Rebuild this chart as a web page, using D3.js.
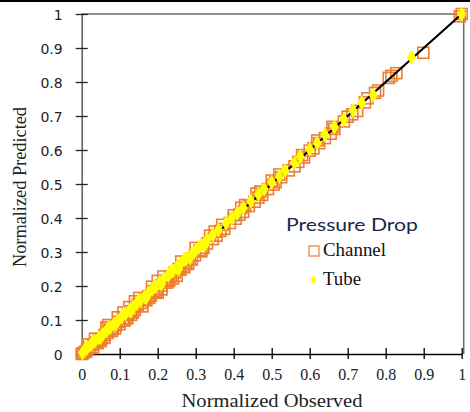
<!DOCTYPE html>
<html>
<head>
<meta charset="utf-8">
<script src="https://cdn.jsdelivr.net/npm/d3@7"></script>
<style>
  body { margin: 0; background: #fff; }
  svg { display: block; }
</style>
</head>
<body>
<svg id="chart" width="470" height="412"></svg>
<script>
// values (observed, predicted)
var channelObserved = [1.0, 0.899, 0.828, 0.815, 0.808, 0.78, 0.772, 0.752, 0.745, 0.725, 0.712, 0.70, 0.69, 0.665, 0.655, 0.64, 0.625, 0.61, 0.60, 0.585, 0.57, 0.56, 0.545, 0.525, 0.51, 0.505, 0.49, 0.475, 0.465, 0.455, 0.44, 0.425, 0.415, 0.405, 0.39, 0.375, 0.365, 0.355, 0.345, 0.33, 0.32, 0.31, 0.298, 0.285, 0.275, 0.268, 0.255, 0.245, 0.235, 0.228, 0.22, 0.21, 0.198, 0.19, 0.182, 0.175, 0.165, 0.158, 0.148, 0.14, 0.13, 0.122, 0.115, 0.108, 0.098, 0.09, 0.082, 0.075, 0.068, 0.06, 0.052, 0.045, 0.038, 0.03, 0.022, 0.015, 0.008, 0.003, 0.0,
    0.16, 0.2, 0.24, 0.25, 0.13, 0.1, 0.06, 0.03, 0.21, 0.07, 0.14, 0.2, 0.27, 0.11,
    0.018, 0.035, 0.05, 0.065, 0.08, 0.095, 0.112, 0.125, 0.135, 0.152, 0.17, 0.185, 0.195, 0.215, 0.23, 0.262, 0.28, 0.3, 0.315, 0.338, 0.37, 0.4, 0.43, 0.46, 0.5, 0.012, 0.042, 0.088, 0.12, 0.178, 0.225, 0.26, 0.29, 0.35, 0.42, 0.47, 0.52, 0.58, 0.62, 0.66, 0.995];
var channelPredicted = [1.0, 0.886, 0.826, 0.818, 0.812, 0.775, 0.768, 0.752, 0.74, 0.715, 0.705, 0.698, 0.684, 0.662, 0.648, 0.635, 0.62, 0.605, 0.598, 0.578, 0.565, 0.552, 0.54, 0.52, 0.505, 0.498, 0.485, 0.468, 0.46, 0.448, 0.435, 0.418, 0.41, 0.398, 0.385, 0.368, 0.362, 0.348, 0.338, 0.325, 0.312, 0.305, 0.29, 0.28, 0.268, 0.258, 0.25, 0.24, 0.228, 0.218, 0.215, 0.202, 0.192, 0.185, 0.172, 0.17, 0.16, 0.15, 0.145, 0.13, 0.126, 0.118, 0.105, 0.103, 0.095, 0.085, 0.075, 0.072, 0.062, 0.056, 0.045, 0.042, 0.033, 0.028, 0.018, 0.012, 0.006, 0.002, 0.0,
    0.14, 0.18, 0.222, 0.23, 0.115, 0.088, 0.048, 0.02, 0.19, 0.085, 0.155, 0.215, 0.255, 0.122,
    0.028, 0.045, 0.038, 0.078, 0.068, 0.108, 0.098, 0.138, 0.122, 0.165, 0.158, 0.198, 0.182, 0.228, 0.215, 0.272, 0.265, 0.312, 0.302, 0.348, 0.38, 0.408, 0.438, 0.472, 0.51, 0.008, 0.032, 0.075, 0.105, 0.165, 0.21, 0.248, 0.278, 0.36, 0.43, 0.478, 0.528, 0.585, 0.628, 0.668, 0.993];

var tubeObserved = [1.0, 0.868, 0.767, 0.737, 0.714, 0.69, 0.665, 0.64, 0.62, 0.60, 0.575, 0.56, 0.535, 0.52, 0.50, 0.48, 0.465, 0.445, 0.425, 0.41, 0.395, 0.38, 0.36, 0.345, 0.33, 0.315, 0.30, 0.29, 0.275, 0.26, 0.25, 0.24, 0.228, 0.215, 0.205, 0.195, 0.185, 0.175, 0.165, 0.155, 0.145, 0.135, 0.125, 0.115, 0.105, 0.095, 0.085, 0.075, 0.065, 0.055, 0.045, 0.035, 0.025, 0.015, 0.008, 0.002,
    0.012, 0.03, 0.05, 0.07, 0.09, 0.11, 0.13, 0.15, 0.17, 0.19, 0.21, 0.235, 0.255, 0.27, 0.285, 0.31, 0.325];
var tubePredicted = [1.0, 0.873, 0.762, 0.739, 0.716, 0.69, 0.668, 0.645, 0.62, 0.602, 0.58, 0.562, 0.54, 0.522, 0.505, 0.485, 0.47, 0.45, 0.43, 0.415, 0.40, 0.385, 0.365, 0.35, 0.336, 0.32, 0.305, 0.295, 0.28, 0.265, 0.255, 0.244, 0.232, 0.22, 0.21, 0.198, 0.19, 0.178, 0.168, 0.158, 0.148, 0.138, 0.128, 0.118, 0.108, 0.098, 0.088, 0.078, 0.068, 0.058, 0.048, 0.038, 0.028, 0.018, 0.01, 0.003,
    0.02, 0.036, 0.048, 0.076, 0.088, 0.118, 0.126, 0.158, 0.166, 0.198, 0.206, 0.242, 0.25, 0.278, 0.282, 0.316, 0.322];

var tickValues = [0, 0.1, 0.2, 0.3, 0.4, 0.5, 0.6, 0.7, 0.8, 0.9, 1];
var tickLabels = ['0', '0.1', '0.2', '0.3', '0.4', '0.5', '0.6', '0.7', '0.8', '0.9', '1'];
var legendTitle = 'Pressure Drop';
var seriesNames = ['Channel', 'Tube'];

var svg = d3.select('#chart');

var x = d3.scaleLinear().domain([0, 1]).range([81.7, 461.7]);
var y = d3.scaleLinear().domain([0, 1]).range([354, 14]);

// outer top edge
svg.append('line').attr('x1', 0).attr('x2', 470).attr('y1', 1).attr('y2', 1)
    .attr('stroke', '#000').attr('stroke-width', 2);

// plot frame (top and right)
svg.append('path')
    .attr('d', 'M' + x(0) + ',' + y(1) + 'H' + (x(1) + 2) + 'V' + y(0))
    .attr('fill', 'none').attr('stroke', '#6a6a6a').attr('stroke-width', 1.5);

// y axis
var yAxis = svg.append('g').attr('transform', 'translate(' + x(0) + ',0)')
    .call(d3.axisLeft(y).tickValues(tickValues).tickSize(0)
        .tickFormat(function(d, i) { return tickLabels[i]; }));
yAxis.select('.domain').attr('stroke', '#595959').attr('stroke-width', 1.5);
yAxis.selectAll('.tick').append('line')
    .attr('x1', -6).attr('x2', 6).attr('stroke', '#222').attr('stroke-width', 1.3);
yAxis.selectAll('.tick text')
    .attr('x', -19).attr('dy', '0.36em')
    .attr('font-family', 'DejaVu Sans').attr('font-size', 14).attr('fill', '#222');

// x axis
var xAxis = svg.append('g').attr('transform', 'translate(0,' + y(0) + ')')
    .call(d3.axisBottom(x).tickValues(tickValues).tickSize(0)
        .tickFormat(function(d, i) { return tickLabels[i]; }));
xAxis.select('.domain').attr('stroke', '#000').attr('stroke-width', 1.5);
xAxis.selectAll('.tick').append('line')
    .attr('y1', -6).attr('y2', 5).attr('stroke', '#000').attr('stroke-width', 1.3);
xAxis.selectAll('.tick text')
    .attr('y', 26).attr('dy', 0)
    .attr('font-family', 'Liberation Serif').attr('font-size', 16).attr('fill', '#222');

// axis titles
svg.append('text').attr('x', 272).attr('y', 407).attr('text-anchor', 'middle')
    .attr('font-family', 'Liberation Serif').attr('font-size', 19)
    .attr('textLength', 181).attr('lengthAdjust', 'spacingAndGlyphs')
    .attr('fill', '#222').text('Normalized Observed');
svg.append('text').attr('transform', 'translate(26,187) rotate(-90)')
    .attr('text-anchor', 'middle')
    .attr('font-family', 'Liberation Serif').attr('font-size', 18)
    .attr('textLength', 160).attr('lengthAdjust', 'spacingAndGlyphs')
    .attr('fill', '#222').text('Normalized Predicted');

var orange = '#ED7D31';
var yellow = '#FFFF00';
var diamond = d3.symbol().type(d3.symbolDiamond).size(68);

var channel = channelObserved.map(function(d, i) { return [d, channelPredicted[i]]; });
var tube = tubeObserved.map(function(d, i) { return [d, tubePredicted[i]]; });

svg.append('g').selectAll('rect').data(channel).enter().append('rect')
    .attr('x', function(d) { return x(d[0]) - 5.5; })
    .attr('y', function(d) { return y(d[1]) - 5.5; })
    .attr('width', 11).attr('height', 11)
    .attr('fill', 'none').attr('stroke', orange).attr('stroke-width', 1.6);

// 1:1 line
svg.append('line')
    .attr('x1', x(0)).attr('y1', y(0)).attr('x2', x(1)).attr('y2', y(1))
    .attr('stroke', '#000').attr('stroke-width', 2.2);

svg.append('g').selectAll('path').data(tube).enter().append('path')
    .attr('transform', function(d) { return 'translate(' + x(d[0]) + ',' + y(d[1]) + ')'; })
    .attr('d', diamond).attr('fill', yellow);

// legend
svg.append('text').attr('x', 286).attr('y', 231)
    .attr('font-family', 'Lato').attr('font-size', 18)
    .attr('textLength', 132).attr('lengthAdjust', 'spacingAndGlyphs')
    .attr('fill', '#17284a').text(legendTitle);
svg.append('rect').attr('x', 309).attr('y', 246).attr('width', 10).attr('height', 10)
    .attr('fill', 'none').attr('stroke', orange).attr('stroke-width', 1.2);
svg.append('text').attr('x', 323).attr('y', 256)
    .attr('font-family', 'Liberation Serif').attr('font-size', 18)
    .attr('textLength', 63).attr('lengthAdjust', 'spacingAndGlyphs')
    .attr('fill', '#111').text(seriesNames[0]);
svg.append('path').attr('transform', 'translate(313.5,280)')
    .attr('d', d3.symbol().type(d3.symbolDiamond).size(28)).attr('fill', yellow);
svg.append('text').attr('x', 323).attr('y', 285)
    .attr('font-family', 'Liberation Serif').attr('font-size', 18)
    .attr('textLength', 38).attr('lengthAdjust', 'spacingAndGlyphs')
    .attr('fill', '#111').text(seriesNames[1]);
</script>
</body>
</html>
